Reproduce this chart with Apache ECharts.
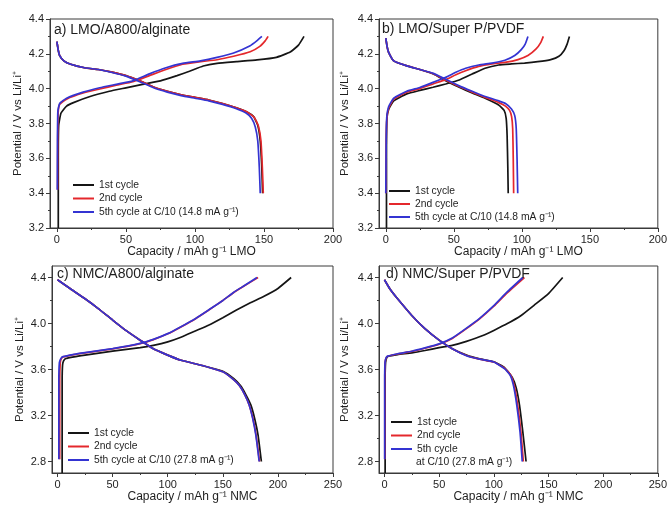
<!DOCTYPE html>
<html><head><meta charset="utf-8">
<script src="https://cdn.jsdelivr.net/npm/echarts@6/dist/echarts.min.js"></script>
<style>html,body{margin:0;padding:0;background:#fff}#c{width:670px;height:506px}</style>
</head><body><div id="c"></div>
<script>
// ---------- Panel a) LMO/A800/alginate ----------
const aCharge1 = [[1,3.2],[1,3.6],[1.3,3.79],[3,3.86],[7,3.90],[12,3.92],[24,3.955],[38,3.985],[50,4.005],[62,4.025],[75,4.045],[87,4.075],[96,4.10],[106,4.13],[116,4.145],[130,4.155],[145,4.165],[159,4.18],[169,4.21],[175,4.25],[179,4.3]];
const aCharge2 = [[0.5,3.42],[0.6,3.7],[0.9,3.86],[2,3.91],[7,3.94],[19,3.975],[31,3.998],[43,4.02],[55,4.04],[67,4.075],[79,4.11],[91,4.14],[104,4.155],[116,4.166],[128,4.186],[140,4.212],[147,4.243],[151,4.276],[153,4.3]];
const aCharge5 = [[0.3,3.42],[0.4,3.7],[0.7,3.87],[2,3.915],[7,3.945],[19,3.98],[31,4.005],[43,4.025],[55,4.045],[67,4.085],[79,4.12],[91,4.145],[104,4.16],[116,4.18],[128,4.205],[140,4.247],[145,4.276],[148.5,4.3]];
const aDischarge1 = [[0,4.27],[1,4.22],[2,4.19],[5,4.16],[10,4.14],[20,4.12],[30,4.11],[40,4.095],[50,4.075],[60,4.045],[70,4.01],[80,3.985],[90,3.965],[100,3.95],[110,3.935],[120,3.915],[130,3.89],[138,3.865],[142.5,3.84],[145.5,3.79],[147.3,3.7],[148.4,3.55],[149,3.4]];
const aDischarge2 = [[0,4.27],[1,4.22],[2,4.19],[5,4.16],[10,4.14],[20,4.12],[30,4.11],[40,4.095],[50,4.075],[60,4.045],[70,4.01],[80,3.985],[90,3.965],[100,3.95],[110,3.935],[120,3.915],[130,3.89],[138,3.865],[143,3.835],[146,3.785],[147.8,3.7],[148.8,3.55],[149.5,3.4]];
const aDischarge5 = [[0,4.27],[1,4.22],[2,4.19],[5,4.16],[10,4.14],[20,4.12],[30,4.11],[40,4.093],[50,4.072],[60,4.04],[70,4.005],[80,3.98],[90,3.96],[100,3.945],[110,3.93],[120,3.91],[130,3.885],[137,3.86],[141,3.83],[143.7,3.78],[145.5,3.7],[146.6,3.55],[147.3,3.4]];

// ---------- Panel b) LMO/Super P/PVDF ----------
const bCharge1 = [[0.5,3.2],[0.5,3.6],[0.8,3.826],[2.2,3.883],[5.8,3.93],[15.4,3.97],[25,3.99],[34.7,4.008],[44,4.027],[54,4.05],[63.5,4.084],[73,4.117],[83,4.136],[92.4,4.142],[102,4.147],[111.7,4.155],[121.3,4.167],[127.3,4.186],[131,4.218],[133.3,4.256],[135,4.3]];
const bCharge2 = [[0,3.4],[0.3,3.7],[0.8,3.83],[2.2,3.89],[5.8,3.94],[15.4,3.98],[25,4.0],[34.7,4.027],[44,4.052],[51.5,4.08],[58.7,4.103],[68.3,4.128],[78,4.142],[87.6,4.151],[97.2,4.167],[104.5,4.19],[110.5,4.228],[114,4.266],[115.8,4.3]];
const bCharge5 = [[0,3.4],[0.3,3.7],[0.7,3.835],[2,3.895],[5.8,3.945],[15.4,3.985],[25,4.007],[34.7,4.036],[44,4.065],[51.5,4.094],[58.7,4.117],[68.3,4.136],[78,4.147],[87.6,4.163],[94.8,4.19],[99.6,4.224],[102.5,4.256],[104.5,4.3]];
const bDischarge1 = [[0,4.29],[1,4.24],[2,4.21],[5.8,4.16],[15,4.132],[25,4.11],[35,4.084],[44,4.046],[54,4.008],[63.5,3.975],[73,3.945],[83,3.906],[87,3.875],[88.5,3.83],[89.2,3.73],[89.7,3.55],[90,3.4]];
const bDischarge2 = [[0,4.29],[1,4.24],[2,4.21],[5.8,4.16],[15,4.132],[25,4.11],[35,4.086],[44,4.05],[54,4.012],[63.5,3.98],[73,3.95],[83,3.92],[88,3.9],[91,3.875],[92.5,3.84],[93.3,3.77],[93.7,3.6],[94,3.4]];
const bDischarge5 = [[0,4.29],[1,4.24],[2,4.21],[5.8,4.16],[15,4.132],[25,4.11],[35,4.088],[44,4.054],[54,4.016],[63.5,3.985],[73,3.955],[83,3.93],[88,3.915],[92.4,3.883],[94.8,3.845],[95.9,3.77],[96.5,3.6],[97,3.4]];

// ---------- Panel c) NMC/A800/alginate ----------
const cCharge1 = [[4.2,2.7],[4.2,3.5],[4.6,3.64],[5.5,3.675],[7.5,3.695],[15,3.71],[25,3.725],[50,3.76],[75,3.79],[87,3.81],[100,3.84],[112,3.88],[125,3.935],[137,3.985],[150,4.05],[162,4.115],[175,4.18],[187,4.235],[200,4.305],[212,4.4]];
const cCharge2 = [[2,2.82],[2,3.5],[2.5,3.66],[3.5,3.695],[5,3.71],[15,3.73],[25,3.745],[50,3.78],[75,3.825],[87,3.86],[100,3.91],[112,3.97],[125,4.04],[137,4.115],[150,4.2],[160,4.27],[170,4.33],[182,4.4]];
const cCharge5 = [[1.2,2.82],[1.2,3.5],[1.7,3.66],[3,3.695],[5,3.712],[15,3.732],[25,3.747],[50,3.782],[75,3.827],[87,3.862],[100,3.912],[112,3.972],[125,4.042],[137,4.117],[150,4.2],[160,4.272],[170,4.332],[181,4.4]];
const cDischarge1 = [[0,4.38],[12,4.30],[25,4.215],[37,4.13],[50,4.03],[62,3.94],[75,3.855],[87,3.78],[100,3.725],[112,3.68],[125,3.65],[137,3.62],[150,3.585],[160,3.52],[166,3.46],[171,3.38],[175.5,3.29],[179,3.17],[182,3.03],[185,2.8]];
const cDischarge2 = [[0,4.38],[12,4.30],[25,4.215],[37,4.13],[50,4.03],[62,3.94],[75,3.855],[87,3.78],[100,3.725],[112,3.68],[125,3.65],[137,3.62],[150,3.58],[160,3.51],[165,3.46],[170,3.38],[174,3.29],[177.2,3.18],[180.2,3.03],[183.3,2.8]];
const cDischarge5 = [[0,4.38],[12,4.30],[25,4.215],[37,4.13],[50,4.03],[62,3.94],[75,3.855],[87,3.78],[100,3.725],[112,3.68],[125,3.65],[137,3.62],[150,3.58],[160,3.51],[165,3.46],[170,3.38],[174,3.29],[177,3.18],[180,3.03],[183,2.8]];

// ---------- Panel d) NMC/Super P/PVDF ----------
const dCharge1 = [[0.6,2.7],[0.6,3.5],[1,3.66],[2,3.7],[3.6,3.715],[12,3.73],[25,3.745],[37,3.765],[50,3.79],[62,3.81],[75,3.845],[90,3.895],[100,3.94],[112,3.997],[125,4.07],[137,4.16],[150,4.26],[163,4.4]];
const dCharge2 = [[0.3,2.82],[0.3,3.5],[0.6,3.66],[1.5,3.7],[3,3.715],[12,3.735],[25,3.757],[37,3.785],[50,3.82],[62,3.87],[75,3.955],[87,4.04],[100,4.15],[112,4.265],[128,4.4]];
const dCharge5 = [[0.2,2.82],[0.2,3.5],[0.5,3.66],[1.4,3.7],[3,3.716],[12,3.737],[25,3.759],[37,3.788],[50,3.823],[62,3.874],[75,3.96],[87,4.045],[100,4.155],[112,4.272],[126.5,4.4]];
const dDischarge1 = [[0,4.38],[5,4.3],[12,4.215],[25,4.07],[37,3.955],[50,3.855],[62,3.78],[75,3.725],[87,3.692],[100,3.667],[110,3.615],[117,3.53],[120.5,3.44],[123.5,3.29],[126.5,3.06],[129.5,2.8]];
const dDischarge2 = [[0,4.38],[5,4.3],[12,4.215],[25,4.07],[37,3.955],[50,3.855],[62,3.78],[75,3.722],[87,3.69],[100,3.665],[110,3.61],[115.5,3.55],[118.7,3.46],[121.8,3.29],[124.8,3.055],[127,2.8]];
const dDischarge5 = [[0,4.38],[5,4.3],[12,4.215],[25,4.07],[37,3.955],[50,3.855],[62,3.78],[75,3.72],[87,3.69],[100,3.665],[110,3.605],[115,3.55],[118,3.46],[121,3.29],[124,3.055],[126,2.8]];

// ---------- Labels / ticks ----------
const panelTitles = ['a) LMO/A800/alginate', 'b) LMO/Super P/PVDF', 'c) NMC/A800/alginate', 'd) NMC/Super P/PVDF'];
const cycleNames = ['1st cycle', '2nd cycle'];
const fifthNameLMO = '5th cycle at C/10 (14.8 mA g⁻¹)';
const fifthNameNMCc = '5th cycle at C/10 (27.8 mA g⁻¹)';
const fifthNameNMCd = '5th cycle';
const fifthNoteNMCd = 'at C/10 (27.8 mA g⁻¹)';
const xNameLMO = 'Capacity / mAh g⁻¹ LMO';
const xNameNMC = 'Capacity / mAh g⁻¹ NMC';
const yName = 'Potential / V vs Li/Li⁺';
const xMajorLMO = [0, 50, 100, 150, 200];
const xMinorLMO = [25, 75, 125, 175];
const xMajorNMC = [0, 50, 100, 150, 200, 250];
const xMinorNMC = [25, 75, 125, 175, 225];
const yMajorNMC = [2.8, 3.2, 3.6, 4.0, 4.4];
const yMinorNMC = [3.0, 3.4, 3.8, 4.2];

const FONT = '"Liberation Sans", Arial, Helvetica, sans-serif';
const AX = '#3a3a3a';
const TXT = '#1e1e1e';
const COLORS = ['#151515', '#e4282c', '#3434d2'];

const grids = [
  {left: 50, top: 19, width: 283, height: 209},
  {left: 379, top: 19, width: 282, height: 209},
  {left: 52, top: 266, width: 281, height: 207},
  {left: 379, top: 266, width: 284, height: 207}
].map(g => Object.assign({show: true, borderColor: AX, borderWidth: 1, backgroundColor: 'transparent'}, g));

const xMax = [200, 200, 250, 250];
const xMajors = [xMajorLMO, xMajorLMO, xMajorNMC, xMajorNMC];
const xMinors = [xMinorLMO, xMinorLMO, xMinorNMC, xMinorNMC];
const xNames = [xNameLMO, xNameLMO, xNameNMC, xNameNMC];

const xAxes = [];
for (let i = 0; i < 4; i++) {
  xAxes.push({
    type: 'value', gridIndex: i, min: -5, max: xMax[i], position: 'bottom',
    axisLine: {show: true, onZero: false, lineStyle: {color: AX, width: 1}},
    axisTick: {show: true, length: 4, customValues: xMajors[i], lineStyle: {color: AX}},
    axisLabel: {customValues: xMajors[i], fontSize: 11, color: TXT, fontFamily: FONT, margin: 6},
    splitLine: {show: false},
    name: xNames[i], nameLocation: 'middle', nameGap: 15,
    nameTextStyle: {fontSize: 12, color: TXT, fontFamily: FONT}
  });
}
for (let i = 0; i < 4; i++) {
  xAxes.push({
    type: 'value', gridIndex: i, min: -5, max: xMax[i], position: 'bottom',
    axisLine: {show: false, onZero: false},
    axisTick: {show: true, length: 2, customValues: xMinors[i], lineStyle: {color: AX}},
    axisLabel: {show: false}, splitLine: {show: false}
  });
}

const yAxes = [];
const yGaps = [26, 28, 26, 28];
for (let i = 0; i < 4; i++) {
  const base = {
    type: 'value', gridIndex: i, position: 'left',
    axisLine: {show: true, onZero: false, lineStyle: {color: AX, width: 1}},
    splitLine: {show: false},
    name: yName, nameLocation: 'middle', nameGap: yGaps[i],
    nameTextStyle: {fontSize: 11.5, color: TXT, fontFamily: FONT}
  };
  if (i < 2) {
    Object.assign(base, {
      min: 3.2, max: 4.4, interval: 0.2,
      axisTick: {show: true, length: 4, lineStyle: {color: AX}},
      minorTick: {show: true, splitNumber: 2, length: 2, lineStyle: {color: AX}},
      axisLabel: {fontSize: 11, color: TXT, fontFamily: FONT, margin: 6, formatter: v => v.toFixed(1)}
    });
  } else {
    Object.assign(base, {
      min: 2.7, max: 4.5,
      axisTick: {show: true, length: 4, customValues: yMajorNMC, lineStyle: {color: AX}},
      axisLabel: {customValues: yMajorNMC, fontSize: 11, color: TXT, fontFamily: FONT, margin: 6, formatter: v => v.toFixed(1)}
    });
  }
  yAxes.push(base);
}
for (let i = 2; i < 4; i++) {
  yAxes.push({
    type: 'value', gridIndex: i, min: 2.7, max: 4.5, position: 'left',
    axisLine: {show: false, onZero: false},
    axisTick: {show: true, length: 2, customValues: yMinorNMC, lineStyle: {color: AX}},
    axisLabel: {show: false}, splitLine: {show: false}
  });
}

const panels = [
  {names: [cycleNames[0], cycleNames[1], fifthNameLMO], charge: [aCharge1, aCharge2, aCharge5], discharge: [aDischarge1, aDischarge2, aDischarge5]},
  {names: [cycleNames[0], cycleNames[1], fifthNameLMO], charge: [bCharge1, bCharge2, bCharge5], discharge: [bDischarge1, bDischarge2, bDischarge5]},
  {names: [cycleNames[0], cycleNames[1], fifthNameNMCc], charge: [cCharge1, cCharge2, cCharge5], discharge: [cDischarge1, cDischarge2, cDischarge5]},
  {names: [cycleNames[0], cycleNames[1], fifthNameNMCd], charge: [dCharge1, dCharge2, dCharge5], discharge: [dDischarge1, dDischarge2, dDischarge5]}
];

const series = [];
panels.forEach((p, i) => {
  for (let k = 0; k < 3; k++) {
    [p.charge[k], p.discharge[k]].forEach(d => {
      series.push({
        type: 'line', name: p.names[k], xAxisIndex: i, yAxisIndex: i,
        data: d, symbol: 'none', smooth: 0.15, z: 2 + k,
        lineStyle: {color: COLORS[k], width: 1.7},
        itemStyle: {color: COLORS[k]},
        animation: false, silent: true
      });
    });
  }
});

const legendPos = [
  {left: 73, top: 179, gap: 1.5},
  {left: 389, top: 185, gap: 1},
  {left: 68, top: 427, gap: 1.5},
  {left: 391, top: 416, gap: 1.5}
];
const legends = panels.map((p, i) => ({
  orient: 'vertical', left: legendPos[i].left, top: legendPos[i].top,
  data: p.names, icon: 'rect', itemWidth: 21, itemHeight: 2, itemGap: legendPos[i].gap,
  padding: 0, textStyle: {fontSize: 10.3, lineHeight: 12, color: TXT, fontFamily: FONT}
}));

const titleTops = [22, 21, 266, 266];
const titleLefts = [54, 382, 57, 386];
const titles = panelTitles.map((t, i) => ({
  text: t, left: titleLefts[i], top: titleTops[i], padding: 0,
  textStyle: {fontSize: 14, fontWeight: 'normal', color: TXT, fontFamily: FONT, lineHeight: 16}
}));

const chart = echarts.init(document.getElementById('c'), null, {renderer: 'canvas'});
chart.setOption({
  backgroundColor: '#fff',
  animation: false,
  textStyle: {fontFamily: FONT},
  title: titles,
  grid: grids,
  xAxis: xAxes,
  yAxis: yAxes,
  legend: legends,
  series: series,
  graphic: [{
    type: 'text', left: 416, top: 457,
    style: {text: fifthNoteNMCd, font: '10.3px ' + FONT, fill: TXT}
  }]
});
</script>
</body></html>
